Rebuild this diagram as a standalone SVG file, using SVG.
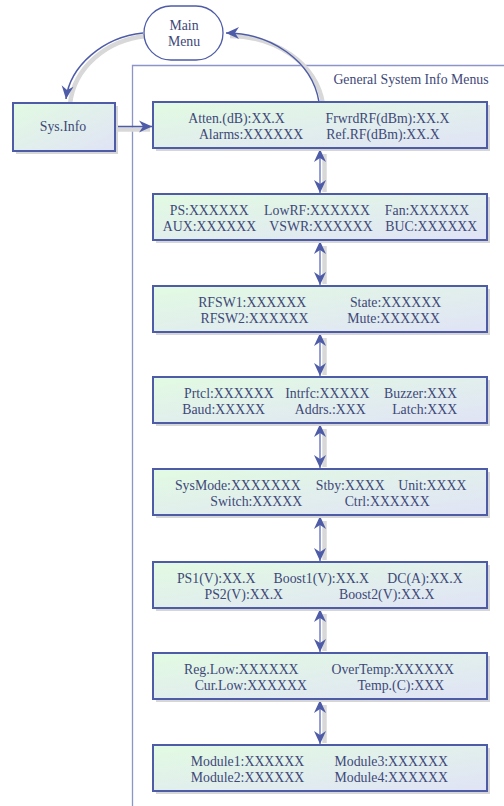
<svg xmlns="http://www.w3.org/2000/svg" width="504" height="806" viewBox="0 0 504 806">
<defs>
<linearGradient id="boxFill" x1="0" y1="0" x2="1" y2="1">
<stop offset="0" stop-color="#e2fbe2"/>
<stop offset="1" stop-color="#e0e3f6"/>
</linearGradient>
<marker id="ah" markerUnits="userSpaceOnUse" viewBox="-14 -7 15 14" refX="0" refY="0" markerWidth="15" markerHeight="14" orient="auto-start-reverse">
<path d="M0,0 C-4,-2 -9,-4 -13,-6 L-9,0 L-13,6 C-9,4 -4,2 0,0 Z" fill="#4e5ca8"/>
</marker>
<style>
.box{fill:url(#boxFill);stroke:#4e5ca8;stroke-width:2}
.shadow{fill:#d6d6d6}
.t{font-family:"Liberation Serif","Times New Roman",serif;font-size:13.8px;fill:#3e4878;text-anchor:middle}
.conn{fill:none;stroke:#4e5ca8;stroke-width:1.5}
.dbl{fill:none;stroke:#7c88c8;stroke-width:1.6;marker-start:url(#ah);marker-end:url(#ah)}
.cshadow{fill:none;stroke:#d8d8d8;stroke-width:4.5}
.frame{fill:none;stroke:#8c94c8;stroke-width:1.3}
</style>
</defs>

<g id="container">
<path class="frame" d="M132.5,806 L132.5,65.5 L504,65.5"/>
<text class="t" x="411" y="84">General System Info Menus</text>
</g>

<g id="connectors">
<path class="cshadow" d="M146,36 C106,40 74,68 70,104"/>
<path class="conn" d="M143,33 C103,37 70,66 66,99" marker-end="url(#ah)"/>
<path class="cshadow" d="M323,104 C316,62 274,36 230,36"/>
<path class="conn" d="M319,102 C312,60 270,33 226,33" marker-end="url(#ah)"/>
<path class="cshadow" d="M116,129.5 L150,129.5"/>
<path class="conn" d="M115,126.5 L152,126.5" marker-end="url(#ah)"/>
<g class="cshadow">
<path d="M324.5,154 L324.5,192"/>
<path d="M324.5,246 L324.5,284"/>
<path d="M324.5,338 L324.5,375"/>
<path d="M324.5,429 L324.5,467"/>
<path d="M324.5,521 L324.5,560"/>
<path d="M324.5,614 L324.5,651"/>
<path d="M324.5,705 L324.5,743"/>
</g>
<path class="dbl" d="M320,149 L320,193"/>
<path class="dbl" d="M320,241 L320,285"/>
<path class="dbl" d="M320,333 L320,376"/>
<path class="dbl" d="M320,424 L320,468"/>
<path class="dbl" d="M320,516 L320,561"/>
<path class="dbl" d="M320,609 L320,652"/>
<path class="dbl" d="M320,700 L320,744"/>
</g>

<g id="main-menu">
<rect x="144" y="6" width="79" height="54" rx="27" ry="27" fill="#ffffff" stroke="#4e5ca8" stroke-width="1.3"/>
<text class="t" x="184" y="30">Main</text>
<text class="t" x="184" y="46">Menu</text>
</g>

<g id="sys-info">
<rect class="shadow" x="16" y="106" width="102" height="48"/>
<rect class="box" x="13" y="103" width="102" height="48"/>
<text class="t" x="63" y="131">Sys.Info</text>
</g>

<g id="menu1">
<rect class="shadow" x="156" y="105" width="334" height="46"/>
<rect class="box" x="153" y="102" width="334" height="46"/>
<text class="t" x="236.5" y="122.5">Atten.(dB):XX.X</text>
<text class="t" x="387.5" y="122.5">FrwrdRF(dBm):XX.X</text>
<text class="t" x="251" y="138.5">Alarms:XXXXXX</text>
<text class="t" x="383" y="138.5">Ref.RF(dBm):XX.X</text>
</g>

<g id="menu2">
<rect class="shadow" x="156" y="197" width="334" height="46"/>
<rect class="box" x="153" y="194" width="334" height="46"/>
<text class="t" x="209.2" y="214.5">PS:XXXXXX</text>
<text class="t" x="317" y="214.5">LowRF:XXXXXX</text>
<text class="t" x="427" y="214.5">Fan:XXXXXX</text>
<text class="t" x="209.5" y="230.5">AUX:XXXXXX</text>
<text class="t" x="321" y="230.5">VSWR:XXXXXX</text>
<text class="t" x="431.3" y="230.5">BUC:XXXXXX</text>
</g>

<g id="menu3">
<rect class="shadow" x="156" y="289" width="334" height="46"/>
<rect class="box" x="153" y="286" width="334" height="46"/>
<text class="t" x="252.2" y="306.5">RFSW1:XXXXXX</text>
<text class="t" x="395.5" y="306.5">State:XXXXXX</text>
<text class="t" x="254.5" y="322.5">RFSW2:XXXXXX</text>
<text class="t" x="393.7" y="322.5">Mute:XXXXXX</text>
</g>

<g id="menu4">
<rect class="shadow" x="156" y="380" width="334" height="46"/>
<rect class="box" x="153" y="377" width="334" height="46"/>
<text class="t" x="228.8" y="397.5">Prtcl:XXXXXX</text>
<text class="t" x="327.3" y="397.5">Intrfc:XXXXX</text>
<text class="t" x="420.5" y="397.5">Buzzer:XXX</text>
<text class="t" x="223.7" y="413.5">Baud:XXXXX</text>
<text class="t" x="330.3" y="413.5">Addrs.:XXX</text>
<text class="t" x="424.7" y="413.5">Latch:XXX</text>
</g>

<g id="menu5">
<rect class="shadow" x="156" y="472" width="334" height="46"/>
<rect class="box" x="153" y="469" width="334" height="46"/>
<text class="t" x="237.8" y="489.5">SysMode:XXXXXXX</text>
<text class="t" x="350.3" y="489.5">Stby:XXXX</text>
<text class="t" x="432.3" y="489.5">Unit:XXXX</text>
<text class="t" x="256.2" y="505.5">Switch:XXXXX</text>
<text class="t" x="387.2" y="505.5">Ctrl:XXXXXX</text>
</g>

<g id="menu6">
<rect class="shadow" x="156" y="565" width="334" height="46"/>
<rect class="box" x="153" y="562" width="334" height="46"/>
<text class="t" x="216.2" y="582.5">PS1(V):XX.X</text>
<text class="t" x="321.3" y="582.5">Boost1(V):XX.X</text>
<text class="t" x="425" y="582.5">DC(A):XX.X</text>
<text class="t" x="243.8" y="598.5">PS2(V):XX.X</text>
<text class="t" x="386.7" y="598.5">Boost2(V):XX.X</text>
</g>

<g id="menu7">
<rect class="shadow" x="156" y="656" width="334" height="46"/>
<rect class="box" x="153" y="653" width="334" height="46"/>
<text class="t" x="241.3" y="673.5">Reg.Low:XXXXXX</text>
<text class="t" x="392.7" y="673.5">OverTemp:XXXXXX</text>
<text class="t" x="250.8" y="689.5">Cur.Low:XXXXXX</text>
<text class="t" x="400.8" y="689.5">Temp.(C):XXX</text>
</g>

<g id="menu8">
<rect class="shadow" x="156" y="748" width="334" height="46"/>
<rect class="box" x="153" y="745" width="334" height="46"/>
<text class="t" x="247.5" y="765.5">Module1:XXXXXX</text>
<text class="t" x="391.2" y="765.5">Module3:XXXXXX</text>
<text class="t" x="247.5" y="781.5">Module2:XXXXXX</text>
<text class="t" x="391.2" y="781.5">Module4:XXXXXX</text>
</g>
</svg>
